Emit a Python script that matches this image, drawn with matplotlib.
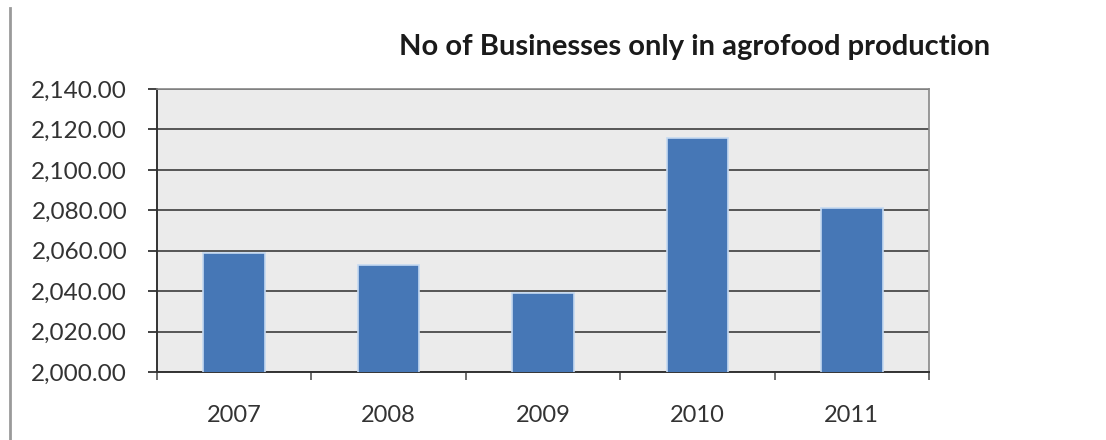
import numpy as np
import matplotlib.pyplot as plt
from matplotlib.lines import Line2D
from matplotlib.ticker import FuncFormatter

# values
years = ["2007", "2008", "2009", "2010", "2011"]
businesses = [2059, 2053, 2039, 2116, 2081]
y_ticks = [2000, 2020, 2040, 2060, 2080, 2100, 2120, 2140]

plt.rcParams["font.family"] = ["Lato", "DejaVu Sans"]

fig = plt.figure(figsize=(11.06, 4.40), dpi=100)
ax = fig.add_axes([157 / 1106, 1 - 372 / 440, (929 - 157) / 1106, (372 - 89) / 440])
ax.set_facecolor("#ebebeb")

x = np.arange(len(years))
ax.bar(x, businesses, width=0.4, color="#4677b6", edgecolor="#c5d9f1",
       linewidth=1.2, zorder=3)

ax.set_xlim(-0.5, len(years) - 0.5)
ax.set_ylim(y_ticks[0], y_ticks[-1])
ax.set_yticks(y_ticks)
ax.yaxis.set_major_formatter(FuncFormatter(lambda v, p: f"{v:,.2f}"))
ax.grid(axis="y", color="#4a4a4a", linewidth=1.3, zorder=1)

ax.set_xticks(x)
ax.set_xticklabels(years)
ax.set_xticks(np.arange(len(years) + 1) - 0.5, minor=True)
ax.tick_params(axis="x", which="major", length=0, pad=24, labelsize=17,
               labelcolor="#333333")
ax.tick_params(axis="x", which="minor", length=5.5, width=1.2, color="#555555",
               direction="out")
ax.tick_params(axis="y", length=6.5, width=1.3, color="#333333", pad=15,
               labelsize=17.5, labelcolor="#333333")

for side in ["left", "bottom"]:
    ax.spines[side].set_color("#333333")
    ax.spines[side].set_linewidth(1.4)
for side in ["top", "right"]:
    ax.spines[side].set_color("#888888")
    ax.spines[side].set_linewidth(1.2)

fig.text(695 / 1106, 1 - 47 / 440, "No of Businesses only in agrofood production",
         ha="center", va="center", fontsize=21, fontweight="bold", color="#1a1a1a")

# grey border line down the left edge
fig.add_artist(Line2D([10 / 1106, 10 / 1106], [0, 1 - 8 / 440],
                      transform=fig.transFigure, color="#9a9a9a", linewidth=2))

fig.savefig("out.png", dpi=100, facecolor="white")
